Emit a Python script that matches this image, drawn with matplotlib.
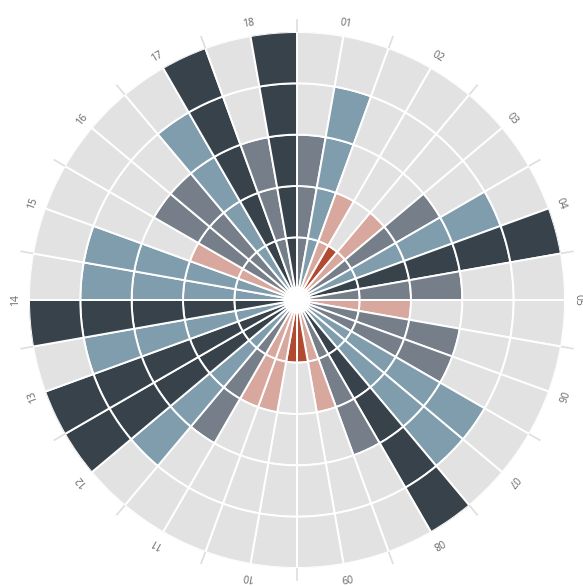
import numpy as np
import matplotlib
matplotlib.use("Agg")
import matplotlib.pyplot as plt
from matplotlib.patches import Circle

# 18 labelled groups, each made of two 10-degree sectors
group_labels = ["01", "02", "03", "04", "05", "06", "07", "08", "09",
                "10", "11", "12", "13", "14", "15", "16", "17", "18"]

# level (number of filled rings, 1..5) of each 10-degree sector, clockwise from top
sector_levels = [3, 4, 2, 1, 2, 3, 4, 5, 3, 2, 3, 3, 4, 4, 5, 3, 2, 1,
                 1, 2, 2, 3, 4, 5, 5, 4, 5, 4, 4, 2, 3, 3, 4, 5, 3, 5]

n_rings = 5
level_colors = {1: "#b04a31", 2: "#d8a79d", 3: "#767f89", 4: "#7f9dac", 5: "#37424b"}
empty_color = "#e2e2e2"

W, H = 583, 586
fig = plt.figure(figsize=(W / 100, H / 100), dpi=100)
cx, cy, R = 297, 300, 268
ax = fig.add_axes([(cx - R) / W, (H - cy - R) / H, 2 * R / W, 2 * R / H], projection="polar")
ax.set_theta_zero_location("N")
ax.set_theta_direction(-1)
rorig = -0.22
ax.set_ylim(0, n_rings)
ax.set_rorigin(rorig)

n_sec = len(sector_levels)
width = 2 * np.pi / n_sec
for i, lev in enumerate(sector_levels):
    theta = (i + 0.5) * width
    for k in range(n_rings):
        col = level_colors[lev] if k < lev else empty_color
        ax.bar(theta, 1, bottom=k, width=width, color=col,
               edgecolor="white", linewidth=1.4, align="center")

# outer ticks between groups
n_grp = len(group_labels)
gw = 2 * np.pi / n_grp
r_tick = (281 / R) * (n_rings - rorig) + rorig
for j in range(n_grp):
    t = j * gw
    ax.plot([t, t], [n_rings, r_tick], color="#dedede", lw=1.2,
            clip_on=False, solid_capstyle="butt")

r_lab = (281 / R) * (n_rings - rorig) + rorig
for j, lab in enumerate(group_labels):
    t = (j + 0.5) * gw
    ax.text(t, r_lab, lab, rotation=-np.degrees(t), rotation_mode="anchor",
            ha="center", va="center", fontsize=7.5, color="#666666",
            family="Open Sans", clip_on=False)

ax.axis("off")
hole = 0.5 * (-rorig) / (n_rings - rorig) + 0.004
ax.add_patch(Circle((0.5, 0.5), hole, transform=ax.transAxes,
                    facecolor="white", edgecolor="none", zorder=10))

fig.savefig("out.png", dpi=100)
